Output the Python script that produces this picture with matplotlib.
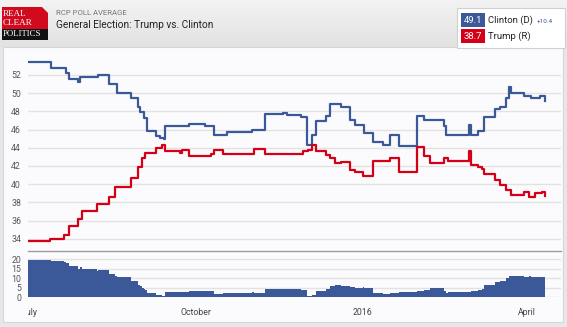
import numpy as np
import pandas as pd
import matplotlib
matplotlib.use("Agg")
import matplotlib.pyplot as plt
from matplotlib.patches import Rectangle, Polygon

# RCP poll average, Trump vs. Clinton
clinton_dates = ["2015-06-30", "2015-07-13", "2015-07-21", "2015-07-23", "2015-07-28",
                 "2015-07-29", "2015-08-08", "2015-08-14", "2015-08-18", "2015-08-26",
                 "2015-08-30", "2015-08-31", "2015-09-02", "2015-09-04", "2015-09-09",
                 "2015-09-11", "2015-09-13", "2015-09-14", "2015-09-27", "2015-10-06",
                 "2015-10-11", "2015-10-18", "2015-11-01", "2015-11-08", "2015-11-18",
                 "2015-11-20", "2015-11-28", "2015-12-01", "2015-12-04", "2015-12-06",
                 "2015-12-12", "2015-12-14", "2015-12-20", "2015-12-25", "2015-12-28",
                 "2016-01-02", "2016-01-07", "2016-01-12", "2016-01-16", "2016-01-21",
                 "2016-01-31", "2016-02-04", "2016-02-15", "2016-02-16", "2016-02-29",
                 "2016-03-01", "2016-03-05", "2016-03-08", "2016-03-14", "2016-03-17",
                 "2016-03-20", "2016-03-22", "2016-03-23", "2016-03-30", "2016-04-03",
                 "2016-04-08", "2016-04-11"]
clinton_vals = [53.4, 52.8, 52.25, 51.6, 51.2,
                51.8, 52.0, 51.0, 50.0, 49.45,
                48.5, 47.9, 47.25, 45.8, 45.3,
                45.1, 45.0, 46.4, 46.6, 46.4,
                45.35, 45.7, 46.0, 47.75, 47.85,
                47.6, 47.4, 44.3, 45.4, 46.9,
                47.45, 48.8, 48.45, 47.0, 46.45,
                45.6, 44.6, 44.3, 45.35, 44.15,
                47.5, 47.0, 46.35, 45.35, 46.45,
                45.4, 45.85, 47.35, 48.3, 48.5,
                49.45, 50.65, 50.0, 49.7, 49.45,
                49.7, 49.1]

trump_dates = ["2015-06-30", "2015-07-12", "2015-07-20", "2015-07-23", "2015-07-28",
               "2015-07-30", "2015-08-07", "2015-08-14", "2015-08-17", "2015-08-26",
               "2015-08-30", "2015-09-01", "2015-09-03", "2015-09-09", "2015-09-12",
               "2015-09-14", "2015-09-22", "2015-09-23", "2015-09-27", "2015-10-09",
               "2015-10-11", "2015-10-16", "2015-11-02", "2015-11-08", "2015-11-29",
               "2015-12-02", "2015-12-04", "2015-12-06", "2015-12-12", "2015-12-14",
               "2015-12-17", "2015-12-20", "2015-12-25", "2015-12-28", "2016-01-01",
               "2016-01-07", "2016-01-16", "2016-01-21", "2016-01-31", "2016-02-04",
               "2016-02-07", "2016-02-15", "2016-02-17", "2016-02-29", "2016-03-01",
               "2016-03-05", "2016-03-07", "2016-03-08", "2016-03-14", "2016-03-17",
               "2016-03-20", "2016-03-23", "2016-03-30", "2016-04-02", "2016-04-05",
               "2016-04-09", "2016-04-11"]
trump_vals = [33.75, 34.0, 34.45, 35.4, 36.2,
              37.1, 37.85, 38.65, 39.65, 40.7,
              41.9, 42.9, 43.4, 43.95, 44.25,
              43.6, 43.4, 43.7, 43.05, 43.3,
              43.7, 43.3, 43.85, 43.35, 43.6,
              43.75, 44.3, 43.65, 43.2, 42.85,
              42.3, 42.4, 41.6, 41.35, 40.85,
              42.6, 42.85, 41.35, 44.05, 43.1,
              42.3, 42.85, 42.6, 43.6, 42.1,
              41.85, 41.65, 41.1, 40.5, 39.95,
              39.4, 38.85, 39.2, 38.65, 39.0,
              39.1, 38.7]

tick_dates = ["2015-07-01", "2015-10-01", "2016-01-01", "2016-04-01"]
tick_labels = ["July", "October", "2016", "April"]
main_yticks = list(range(34, 53, 2))
spread_yticks = [0, 5, 10, 15, 20]

BLUE = "#3b5998"
RED = "#d50018"
W, H = 567, 327

clinton = pd.Series(clinton_vals, index=pd.to_datetime(clinton_dates))
trump = pd.Series(trump_vals, index=pd.to_datetime(trump_dates))
idx = clinton.index.union(trump.index)
spread = clinton.reindex(idx).ffill() - trump.reindex(idx).ffill()

plt.rcParams["font.family"] = ["Roboto", "DejaVu Sans"]
fig = plt.figure(figsize=(W / 100, H / 100), dpi=100)
fig.patch.set_facecolor("#e7e7e7")

# background / decorations drawn in pixel coordinates
bg = fig.add_axes([0, 0, 1, 1], zorder=0)
bg.set_xlim(0, W)
bg.set_ylim(H, 0)
bg.axis("off")
grad = np.linspace(0, 1, 50).reshape(-1, 1)
bg.imshow(grad, extent=(0, W, 47, 0), cmap=matplotlib.colors.LinearSegmentedColormap.from_list(
    "hdr", ["#f3f3f3", "#e2e2e2"]), aspect="auto", zorder=0)
bg.add_patch(Rectangle((3, 47), 560, 275, facecolor="#fbfbfd", edgecolor="#d6d6d6", lw=0.8, zorder=1))

# logo
bg.add_patch(Rectangle((2, 7), 46, 22, facecolor="#d10a1e", lw=0, zorder=2))
bg.add_patch(Rectangle((2, 29), 46, 10.5, facecolor="#111111", lw=0, zorder=2))
bg.add_patch(Polygon([(42, 7), (48, 7), (48, 13)], closed=True, facecolor="#eeeeee", lw=0, zorder=3))
serif = ["Liberation Serif", "DejaVu Serif"]
bg.text(3, 14, "REAL", family=serif, fontsize=6.6, color="white", va="center", ha="left", zorder=4)
bg.text(3, 23, "CLEAR", family=serif, fontsize=6.6, color="white", va="center", ha="left", zorder=4)
bg.text(3, 34, "POLITICS", family=serif, fontsize=6.3, color="white", va="center", ha="left", zorder=4)

bg.text(55.5, 13, "RCP POLL AVERAGE", fontsize=5.6, color="#777777", va="center", ha="left")
bg.text(55.5, 25, "General Election: Trump vs. Clinton", fontsize=7.3, color="#222222",
        va="center", ha="left")

# legend box
bg.add_patch(Rectangle((457, 8), 108, 40, facecolor="white", edgecolor="#d0d0d0", lw=0.8, zorder=2))
bg.add_patch(Rectangle((461, 13.3), 24, 14, facecolor=BLUE, lw=0, zorder=3))
bg.add_patch(Rectangle((461, 29.3), 24, 13.5, facecolor=RED, lw=0, zorder=3))
bg.text(473, 20.6, f"{clinton_vals[-1]:.1f}", fontsize=6.8, color="white", ha="center", va="center", zorder=4)
bg.text(473, 36.3, f"{trump_vals[-1]:.1f}", fontsize=6.8, color="white", ha="center", va="center", zorder=4)
bg.text(488.5, 20.6, "Clinton (D)", fontsize=6.8, color="#222222", va="center", zorder=4)
bg.text(536.5, 21, f"+{clinton_vals[-1] - trump_vals[-1]:.1f}", fontsize=4.6, color=BLUE,
        va="center", zorder=4)
bg.text(488.5, 36.3, "Trump (R)", fontsize=6.8, color="#222222", va="center", zorder=4)

x0 = pd.Timestamp("2015-07-01") - pd.Timedelta(days=0.9)
x1 = pd.Timestamp("2015-07-01") + pd.Timedelta(days=293.6)
left, right = 28 / W, (561 - 28) / W

# main chart
ax = fig.add_axes([left, 1 - 248 / H, right, 195 / H], zorder=2)
ax.set_facecolor("none")
ax.step(clinton.index, clinton.values, where="post", color=BLUE, lw=1.6, zorder=3)
ax.step(trump.index, trump.values, where="post", color=RED, lw=1.6, zorder=3)
ax.set_xlim(x0, x1)
ax.set_ylim(33.0, 54.4)
ax.set_yticks(main_yticks)
ax.set_xticks([])
ax.grid(axis="y", color="#e2e2e2", lw=1)
ax.set_axisbelow(True)
for s in ax.spines.values():
    s.set_visible(False)
ax.tick_params(axis="y", length=0, pad=5, labelsize=6.3, labelcolor="#555555")

# spread chart
ax2 = fig.add_axes([left, 1 - 297.3 / H, right, 46.3 / H], zorder=2)
ax2.set_facecolor("none")
ax2.fill_between(spread.index, spread.values, 0, step="post", color=BLUE, lw=0, zorder=3)
ax2.set_xlim(x0, x1)
ax2.set_ylim(0, 24.2)
ax2.set_yticks(spread_yticks)
ax2.set_xticks(pd.to_datetime(tick_dates))
ax2.set_xticklabels(tick_labels)
ax2.grid(axis="y", color="#e2e2e2", lw=1)
ax2.set_axisbelow(True)
for name, s in ax2.spines.items():
    s.set_visible(name == "top")
ax2.spines["top"].set_color("#9c9c9c")
ax2.spines["top"].set_linewidth(1)
ax2.tick_params(axis="y", length=0, pad=5, labelsize=6.3, labelcolor="#555555")
ax2.tick_params(axis="x", length=0, pad=8, labelsize=6.3, labelcolor="#444444")

clip = Rectangle((27.5, 0), W, H, transform=bg.transData)
for lab in ax2.get_xticklabels():
    lab.set_clip_on(True)
    lab.set_clip_path(clip)

fig.savefig("out.png", dpi=100, facecolor=fig.get_facecolor())
